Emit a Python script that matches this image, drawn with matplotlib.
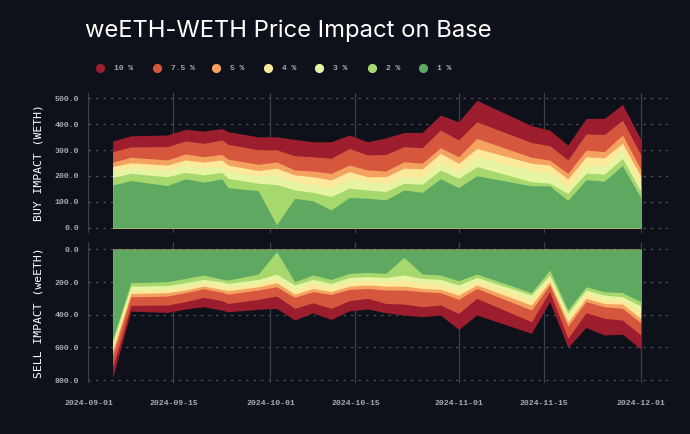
import matplotlib
matplotlib.use("Agg")
import matplotlib.pyplot as plt
import matplotlib.dates as mdates
from matplotlib.lines import Line2D
import pandas as pd

# ---------------- data ----------------
dates = ["2024-09-05", "2024-09-08", "2024-09-14", "2024-09-17", "2024-09-20",
         "2024-09-23", "2024-09-24", "2024-09-29", "2024-10-02", "2024-10-05",
         "2024-10-08", "2024-10-11", "2024-10-14", "2024-10-17", "2024-10-20",
         "2024-10-23", "2024-10-26", "2024-10-29", "2024-11-01", "2024-11-04",
         "2024-11-13", "2024-11-16", "2024-11-19", "2024-11-22", "2024-11-25",
         "2024-11-28", "2024-12-01"]

levels = ["10 %", "7.5 %", "5 %", "4 %", "3 %", "2 %", "1 %"]

# Buy side (WETH) amount reachable at each price impact level
buy_10  = [335, 355, 358, 380, 373, 383, 371, 351, 351, 341, 332, 332, 358, 332, 347,
           368, 368, 435, 409, 492, 394, 377, 319, 422, 422, 476, 342]
buy_75  = [294, 312, 313, 335, 326, 339, 322, 301, 301, 278, 274, 268, 306, 281, 283,
           313, 309, 377, 339, 409, 329, 317, 262, 362, 360, 415, 283]
buy_5   = [253, 272, 262, 285, 274, 283, 265, 245, 254, 223, 219, 210, 242, 223, 219,
           255, 249, 309, 274, 345, 272, 261, 210, 300, 294, 358, 226]
buy_4   = [236, 251, 242, 262, 253, 262, 242, 221, 230, 204, 197, 185, 217, 197, 197,
           230, 227, 287, 249, 306, 249, 242, 188, 274, 270, 326, 200]
buy_3   = [219, 232, 223, 242, 232, 236, 219, 200, 205, 176, 168, 153, 194, 176, 172,
           197, 197, 255, 217, 274, 221, 213, 157, 239, 239, 300, 165]
buy_2   = [195, 210, 197, 214, 204, 214, 191, 172, 167, 146, 137, 121, 153, 146, 140,
           172, 168, 223, 191, 236, 178, 172, 133, 211, 207, 268, 142]
buy_1   = [165, 182, 163, 189, 176, 189, 155, 143, 11, 114, 104, 69, 117, 114, 108,
           146, 137, 189, 155, 201, 162, 162, 106, 185, 180, 240, 117]

# Sell side (weETH) amount reachable at each price impact level
sell_10 = [785, 378, 386, 365, 351, 372, 382, 367, 361, 433, 388, 429, 376, 365, 388,
           402, 412, 402, 490, 402, 514, 320, 600, 478, 524, 520, 610]
sell_75 = [720, 343, 341, 320, 294, 314, 331, 306, 286, 361, 327, 361, 314, 300, 331,
           335, 351, 341, 392, 300, 443, 259, 545, 388, 422, 433, 524]
sell_5  = [650, 290, 286, 265, 241, 263, 274, 249, 229, 294, 259, 276, 245, 239, 249,
           249, 259, 265, 306, 239, 371, 218, 469, 320, 351, 361, 449]
sell_4  = [620, 270, 265, 249, 225, 245, 253, 229, 204, 274, 239, 259, 225, 218, 225,
           225, 239, 245, 280, 218, 341, 198, 443, 300, 331, 335, 422]
sell_3  = [600, 249, 245, 229, 204, 222, 233, 208, 184, 249, 208, 233, 198, 192, 198,
           188, 208, 212, 249, 192, 310, 178, 412, 270, 306, 310, 382]
sell_2  = [570, 225, 222, 204, 184, 198, 208, 184, 151, 218, 184, 208, 172, 167, 172,
           157, 178, 184, 218, 172, 280, 157, 392, 249, 280, 290, 347]
sell_1  = [550, 204, 198, 178, 157, 182, 188, 151, 14, 198, 157, 184, 147, 141, 147,
           49, 151, 157, 192, 151, 265, 127, 371, 229, 259, 265, 320]

buy_series = [buy_10, buy_75, buy_5, buy_4, buy_3, buy_2, buy_1]
sell_series = [sell_10, sell_75, sell_5, sell_4, sell_3, sell_2, sell_1]

buy_ticks = [0, 100, 200, 300, 400, 500]
sell_ticks = [0, 200, 400, 600, 800]
x_ticks = ["2024-09-01", "2024-09-15", "2024-10-01", "2024-10-15",
           "2024-11-01", "2024-11-15", "2024-12-01"]

title = "weETH-WETH Price Impact on Base"
buy_label = "BUY IMPACT (WETH)"
sell_label = "SELL IMPACT (weETH)"

# ---------------- style ----------------
BG = "#0e111a"
colors = ["#9c1d2d", "#d6573d", "#f3a35f", "#fde99c", "#e7f4a3", "#a7d86e", "#5ea862"]
TICK_C = "#a6aab1"
GRID_V = "#3a3e48"
GRID_H = "#4a4e58"
MONO = ["Liberation Mono", "DejaVu Sans Mono"]

x = pd.to_datetime(dates)
xt = pd.to_datetime(x_ticks)

W, H = 690, 434
fig = plt.figure(figsize=(W / 100, H / 100), dpi=100, facecolor=BG)

left_px, right_px = 87.6, 668
ax1 = fig.add_axes([left_px / W, 1 - 233 / H, (right_px - left_px) / W, 140 / H])
ax2 = fig.add_axes([left_px / W, 1 - 383 / H, (right_px - left_px) / W, 141 / H])

xmin = pd.Timestamp("2024-09-01") - pd.Timedelta(hours=3)
xmax = pd.Timestamp("2024-12-05") + pd.Timedelta(hours=12)

for ax, series, ticks in [(ax1, buy_series, buy_ticks), (ax2, sell_series, sell_ticks)]:
    ax.set_facecolor(BG)
    for s in ax.spines.values():
        s.set_visible(False)
    for vals, c in zip(series, colors):
        ax.fill_between(x, 0, vals, color=c, linewidth=0, zorder=2)
    ax.set_axisbelow(True)
    ax.xaxis.grid(True, color=GRID_V, linewidth=0.9, linestyle="-", zorder=0)
    ax.yaxis.grid(True, color=GRID_H, linewidth=0.9, linestyle=(0, (2, 4)), zorder=0)
    ax.set_yticks(ticks)
    ax.set_yticklabels([f"{t:.1f}" for t in ticks])
    ax.set_xticks(xt)
    ax.set_xlim(xmin, xmax)
    ax.tick_params(axis="both", length=0, colors=TICK_C, labelsize=5.9)
    ax.tick_params(axis="y", pad=6)
    for lab in ax.get_yticklabels() + ax.get_xticklabels():
        lab.set_family(MONO)
        lab.set_fontweight("bold")

ax1.set_ylim(-20, 520)
ax2.set_ylim(818, -45)
ax1.set_xticklabels([])
ax2.xaxis.set_major_formatter(mdates.DateFormatter("%Y-%m-%d"))
ax2.tick_params(axis="x", pad=12)
for lab in ax2.get_xticklabels():
    lab.set_family(MONO)
    lab.set_fontweight("bold")

for ax, lab in [(ax1, buy_label), (ax2, sell_label)]:
    ax.set_ylabel(lab, family=["DejaVu Sans Mono"], fontsize=8.2, color="white",
                  va="center")
    ax.yaxis.set_label_coords((38 - left_px) / (right_px - left_px), 0.5)

# title
fig.text(85 / W, 1 - 37.5 / H, title, fontsize=17.1, color="white",
         family=["Inter", "DejaVu Sans"], va="baseline", ha="left")

# legend
leg_x = [100, 157, 216, 268, 319, 372, 423]
leg_y = 1 - 68 / H
for px, lab, c in zip(leg_x, levels, colors):
    fig.add_artist(Line2D([px / W], [leg_y], marker="o", markersize=6.6,
                          markerfacecolor=c, markeredgewidth=0, linestyle="none",
                          transform=fig.transFigure))
    fig.text((px + 14) / W, leg_y, lab, fontsize=5.8, color=TICK_C, family=MONO,
             fontweight="bold", va="center", ha="left")

fig.savefig("out.png", dpi=100, facecolor=BG)
